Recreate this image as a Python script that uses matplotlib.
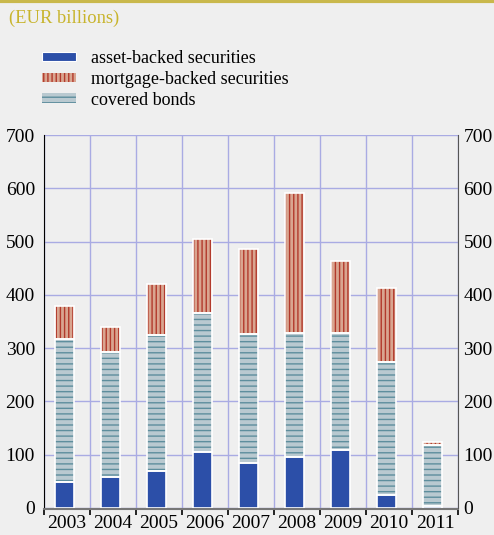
import matplotlib.pyplot as plt
import matplotlib.patches as mpatches
import numpy as np

plt.rcParams['font.family'] = ['Liberation Serif', 'DejaVu Serif']
plt.rcParams['hatch.linewidth'] = 1.0

years = ['2003', '2004', '2005', '2006', '2007', '2008', '2009', '2010', '2011']
asset_backed = [48, 58, 70, 106, 84, 95, 109, 25, 4]
covered = [270, 235, 255, 260, 242, 234, 220, 249, 114]
mortgage_backed = [62, 47, 95, 138, 160, 263, 135, 139, 6]

bg = '#efefef'
blue = '#2c4fa8'
mbs_fill, mbs_line = '#d9a590', '#b23a2c'
cb_fill, cb_line = '#b9c9d0', '#5e8e9d'
grid_col = '#a9abe3'

fig = plt.figure(figsize=(4.94, 5.35), dpi=100, facecolor=bg)
ax = fig.add_axes([0.0891, 0.0505, 0.838, 0.697], facecolor=bg)

x = np.arange(len(years)) - 0.05
w = 0.41
abs_a = np.array(asset_backed)
cb_a = np.array(covered)
mbs_a = np.array(mortgage_backed)

# filled + hatched parts, then white outlines on top
ax.bar(x, abs_a, w, color=blue, linewidth=0, zorder=3)
ax.bar(x, cb_a, w, bottom=abs_a, facecolor=cb_fill, edgecolor=cb_line,
       hatch='---', linewidth=0, zorder=3)
ax.bar(x, mbs_a, w, bottom=abs_a + cb_a, facecolor=mbs_fill, edgecolor=mbs_line,
       hatch='||||', linewidth=0, zorder=3)
for vals, bot in [(abs_a, 0), (cb_a, abs_a), (mbs_a, abs_a + cb_a)]:
    ax.bar(x, vals, w, bottom=bot, fill=False, edgecolor='white', linewidth=1.2, zorder=4)

ax.set_xlim(-0.5, len(years) - 0.5)
ax.set_ylim(0, 700)
ax.set_yticks(range(0, 701, 100))
ax.set_xticks(range(len(years)))
ax.set_xticklabels(years)
ax.set_xticks(np.arange(-0.5, len(years)), minor=True)

ax.grid(True, which='major', axis='y', color=grid_col, linewidth=1, zorder=0)
ax.grid(True, which='minor', axis='x', color=grid_col, linewidth=1, zorder=0)

ax.tick_params(axis='x', which='major', length=0, labelsize=14, pad=4)
ax.tick_params(axis='x', which='minor', length=4, width=1.2, direction='out', color='black')
ax.tick_params(axis='y', length=0, labelsize=14, pad=6.5)

# right-hand copy of the value axis
ax2 = ax.twinx()
ax2.set_ylim(0, 700)
ax2.set_yticks(range(0, 701, 100))
ax2.tick_params(axis='y', length=0, labelsize=14, pad=4)
for s in ['top', 'left', 'bottom']:
    ax2.spines[s].set_visible(False)
ax2.spines['right'].set_color('#555555')

ax.spines['top'].set_visible(False)
ax.spines['right'].set_visible(False)
ax.spines['left'].set_color('black')
ax.spines['bottom'].set_color('#777777')
ax.spines['bottom'].set_linewidth(1.5)
ax.spines['bottom'].set_position(('outward', 1))

# header
fig.add_artist(plt.Line2D([0, 1], [0.998, 0.998], color='#c9b84c', linewidth=3))
fig.text(0.018, 0.966, '(EUR billions)', color='#c8b42c', fontsize=13.3, va='center')

handles = [
    mpatches.Patch(facecolor=blue, edgecolor='white', linewidth=0.8),
    mpatches.Patch(facecolor=mbs_fill, edgecolor=mbs_line, hatch='||||', linewidth=0),
    mpatches.Patch(facecolor=cb_fill, edgecolor=cb_line, hatch='---', linewidth=0),
]
fig.legend(handles, ['asset-backed securities', 'mortgage-backed securities', 'covered bonds'],
           loc='upper left', bbox_to_anchor=(0.085, 0.906), frameon=False, fontsize=13,
           borderpad=0, borderaxespad=0,
           handlelength=1.9, handleheight=0.4, handletextpad=0.83, labelspacing=0.2)

fig.savefig('out.png', dpi=100, facecolor=bg)
